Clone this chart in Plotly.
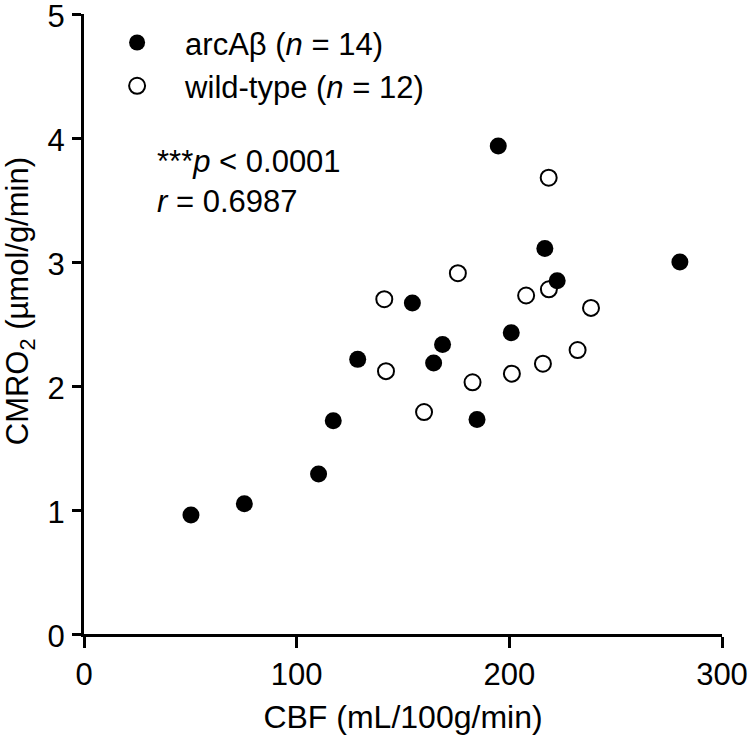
import plotly.graph_objects as go

# CBF (mL/100g/min) vs CMRO2 (umol/g/min)
arc_cbf = [50.3, 75.4, 110.3, 117.2, 128.7, 154.4, 164.4, 168.6, 184.8, 194.8, 200.9, 216.7, 222.5, 280.2]
arc_cmro2 = [0.96, 1.05, 1.29, 1.72, 2.215, 2.67, 2.185, 2.335, 1.73, 3.935, 2.43, 3.11, 2.85, 3.0]

wt_cbf = [141.2, 142.0, 159.9, 175.8, 182.7, 201.2, 207.9, 215.8, 218.5, 218.6, 232.1, 238.4]
wt_cmro2 = [2.70, 2.12, 1.79, 2.91, 2.03, 2.10, 2.73, 2.18, 3.68, 2.78, 2.29, 2.63]

x_ticks = [0, 100, 200, 300]
y_ticks = [0, 1, 2, 3, 4, 5]

FONT = "Arial, Liberation Sans, Helvetica, sans-serif"

fig = go.Figure()

# wild-type drawn first so the filled dots sit on top
fig.add_trace(go.Scatter(
    x=wt_cbf, y=wt_cmro2, mode="markers",
    name="wild-type (<i>n</i> = 12)",
    legendgroup="wt", legendrank=2,
    marker=dict(size=16, color="white", line=dict(color="black", width=2)),
))
fig.add_trace(go.Scatter(
    x=arc_cbf, y=arc_cmro2, mode="markers",
    name="arcAβ (<i>n</i> = 14)",
    legendgroup="arc", legendrank=1,
    marker=dict(size=17, color="black", line=dict(color="black", width=0)),
))

fig.add_annotation(
    xref="paper", yref="paper", x=0.112, y=0.73,
    xanchor="left", yanchor="middle", align="left", showarrow=False,
    text="***<i>p</i> < 0.0001<br><i>r</i> = 0.6987",
    font=dict(family=FONT, size=31, color="black"),
)

# y title as a rotated annotation so it can sit a little above centre like the original
fig.add_annotation(
    xref="paper", yref="paper", x=-0.1, y=0.537,
    xanchor="center", yanchor="middle", showarrow=False, textangle=-90,
    text="CMRO<sub>2</sub> (µmol/g/min)",
    font=dict(family=FONT, size=31, color="black"),
)

axis_common = dict(
    showgrid=False, zeroline=False, showline=True, linecolor="black", linewidth=3,
    ticks="outside", tickcolor="black", tickwidth=3, automargin=False,
    ticklabeloverflow="allow",
    tickfont=dict(family=FONT, size=31, color="black"),
)

fig.update_xaxes(
    range=[0, 300], tickvals=x_ticks, ticklen=11, ticklabelstandoff=0,
    title=dict(text="CBF (mL/100g/min)", font=dict(family=FONT, size=32, color="black")),
    **axis_common,
)
fig.update_yaxes(
    range=[0, 5.0005], tickvals=y_ticks, ticklen=9, ticklabelstandoff=1,
    ticklabelshift=2,
    **axis_common,
)

fig.update_layout(
    width=750, height=744,
    margin=dict(l=84, r=28, t=14, b=110),
    paper_bgcolor="white", plot_bgcolor="white",
    font=dict(family=FONT, color="black"),
    legend=dict(
        x=0.008, y=0.997, xanchor="left", yanchor="top",
        font=dict(family=FONT, size=31, color="black"),
        itemsizing="trace", itemwidth=86, tracegroupgap=0,
        bgcolor="rgba(0,0,0,0)",
    ),
)

# drop the default 8px body margin so the figure fills the window
fig.write_html(
    "out.html",
    config={"displayModeBar": False},
    post_script="document.body.style.margin='0';",
)
